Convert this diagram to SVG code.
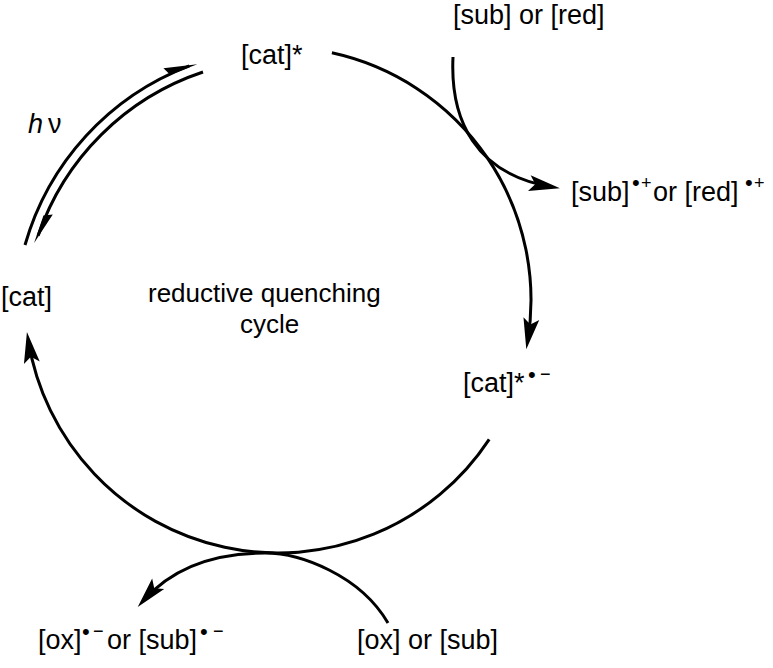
<svg xmlns="http://www.w3.org/2000/svg" width="773" height="668" viewBox="0 0 773 668">
<defs>
<style>
text{font-family:"Liberation Sans",Arial,sans-serif;font-size:27px;fill:#000}
.dot{font-size:22px}
.sup{font-size:18px}
.ln{fill:none;stroke:#000;stroke-width:3}
</style>
<marker id="ah" markerUnits="userSpaceOnUse" orient="auto" markerWidth="40" markerHeight="20" viewBox="-25 -10 40 20" refX="0" refY="0" overflow="visible">
<path d="M8,0 L-23,-8 L-17,0 L-23,8 Z" fill="#000"/>
</marker>
<marker id="half" markerUnits="userSpaceOnUse" orient="auto" markerWidth="40" markerHeight="20" viewBox="-30 -10 40 20" refX="0" refY="0" overflow="visible">
<path d="M8,1.5 L-25,-7 L-21,1.5 Z" fill="#000"/>
</marker>
</defs>
<rect width="773" height="668" fill="#fff"/>
<g id="connectors">
<path class="ln" d="M331.9,52.8 A253,253 0 0 1 527.6,341.3" marker-end="url(#ah)"/>
<path class="ln" d="M489.2,439.3 A253,253 0 0 1 28.2,340" marker-end="url(#ah)"/>
<path class="ln" d="M25,245 A271,271 0 0 1 189.3,65.8" marker-end="url(#half)"/>
<path class="ln" d="M203,72 A261.5,261.5 0 0 0 38.1,235.8" marker-end="url(#half)"/>
<path class="ln" d="M453,57 C450,120 475,174 552,187" marker-end="url(#ah)"/>
<path class="ln" d="M388,623 C360,575 300,553 265,553 C215,553 172,568 143,601" marker-end="url(#ah)"/>
</g>
<g id="cat-star"><text x="241" y="64">[cat]*</text></g>
<g id="cat"><text x="1" y="306">[cat]</text></g>
<g id="hv"><text x="28" y="133"><tspan font-style="italic">h</tspan><tspan x="48">ν</tspan></text></g>
<g id="cycle-label"><text x="148" y="302" style="font-size:26px">reductive quenching</text><text x="240" y="333" style="font-size:26px">cycle</text></g>
<g id="sub-red"><text x="453" y="24">[sub] or [red]</text></g>
<g id="sub-red-ox"><text x="571" y="201">[sub]<tspan class="dot" x="632" y="190">•</tspan><tspan class="sup" x="641" y="189">+</tspan><tspan x="653" y="201">or [red]</tspan><tspan class="dot" x="745" y="190">•</tspan><tspan class="sup" x="754" y="189">+</tspan></text></g>
<g id="cat-rad"><text x="463" y="392">[cat]*<tspan class="dot" x="528" y="382">•</tspan><tspan class="sup" x="540" y="380">−</tspan></text></g>
<g id="ox-red"><text x="38" y="649">[ox]<tspan class="dot" x="82" y="639">•</tspan><tspan class="sup" x="93" y="637">−</tspan><tspan x="107" y="649">or [sub]</tspan><tspan class="dot" x="200" y="639">•</tspan><tspan class="sup" x="213" y="637">−</tspan></text></g>
<g id="ox-sub"><text x="357" y="649">[ox] or [sub]</text></g>
</svg>
